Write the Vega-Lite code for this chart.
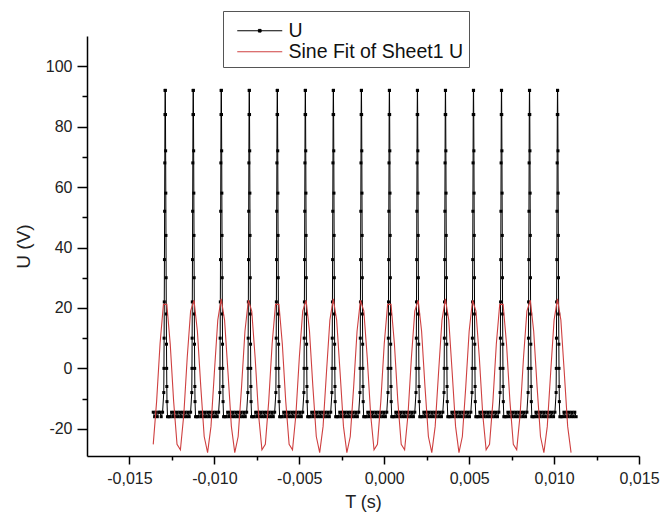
{
"$schema": "https://vega.github.io/schema/vega-lite/v6.json",
"width": 552, "height": 420,
"autosize": {"type": "none"},
"padding": {"left": 87, "top": 36, "right": 23, "bottom": 69},
"background": "white",
"config": {"view": {"stroke": null}, "font": "Liberation Sans"},
"datasets": {
"u": [
{"T":-0.0136,"U":-14.5},{"T":-0.01352,"U":-16},{"T":-0.01344,"U":-14.5},{"T":-0.01336,"U":-16},{"T":-0.01328,"U":-14.5},{"T":-0.01321,"U":-14.5},
{"T":-0.01313,"U":-16},{"T":-0.01305,"U":-14.5},{"T":-0.01298,"U":-8},{"T":-0.01297,"U":0},{"T":-0.01296,"U":10},{"T":-0.01295,"U":22},{"T":-0.01294,"U":36},{"T":-0.01293,"U":52},{"T":-0.01292,"U":68},{"T":-0.01291,"U":84},{"T":-0.0129,"U":92},{"T":-0.01289,"U":92},{"T":-0.01288,"U":84},{"T":-0.01287,"U":72},{"T":-0.01286,"U":58},{"T":-0.01285,"U":44},{"T":-0.01284,"U":30},{"T":-0.01283,"U":18},{"T":-0.01282,"U":8},{"T":-0.01281,"U":0},{"T":-0.0128,"U":-6},{"T":-0.01279,"U":-11},{"T":-0.01276,"U":-16},{"T":-0.01268,"U":-16},{"T":-0.0126,"U":-16},{"T":-0.01252,"U":-14.5},{"T":-0.01244,"U":-16},{"T":-0.01236,"U":-14.5},{"T":-0.01228,"U":-16},{"T":-0.0122,"U":-14.5},{"T":-0.01212,"U":-16},{"T":-0.01204,"U":-14.5},{"T":-0.01196,"U":-16},{"T":-0.01188,"U":-14.5},{"T":-0.0118,"U":-16},{"T":-0.01172,"U":-14.5},{"T":-0.01164,"U":-16},{"T":-0.01156,"U":-14.5},
{"T":-0.01148,"U":-16},{"T":-0.0114,"U":-14.5},{"T":-0.01133,"U":-8},{"T":-0.01132,"U":0},{"T":-0.01131,"U":10},{"T":-0.0113,"U":22},{"T":-0.01129,"U":36},{"T":-0.01128,"U":52},{"T":-0.01127,"U":68},{"T":-0.01126,"U":84},{"T":-0.01125,"U":92},{"T":-0.01124,"U":92},{"T":-0.01123,"U":84},{"T":-0.01122,"U":72},{"T":-0.01121,"U":58},{"T":-0.0112,"U":44},{"T":-0.01119,"U":30},{"T":-0.01118,"U":18},{"T":-0.01117,"U":8},{"T":-0.01116,"U":0},{"T":-0.01115,"U":-6},{"T":-0.01114,"U":-11},{"T":-0.01111,"U":-16},{"T":-0.01103,"U":-16},{"T":-0.01095,"U":-16},{"T":-0.01087,"U":-14.5},{"T":-0.01079,"U":-16},{"T":-0.01071,"U":-14.5},{"T":-0.01063,"U":-16},{"T":-0.01055,"U":-14.5},{"T":-0.01047,"U":-16},{"T":-0.01039,"U":-14.5},{"T":-0.01031,"U":-16},{"T":-0.01023,"U":-14.5},{"T":-0.01015,"U":-16},{"T":-0.01007,"U":-14.5},{"T":-0.00999,"U":-16},{"T":-0.00991,"U":-14.5},
{"T":-0.00983,"U":-16},{"T":-0.00975,"U":-14.5},{"T":-0.00968,"U":-8},{"T":-0.00967,"U":0},{"T":-0.00966,"U":10},{"T":-0.00965,"U":22},{"T":-0.00964,"U":36},{"T":-0.00963,"U":52},{"T":-0.00962,"U":68},{"T":-0.00961,"U":84},{"T":-0.0096,"U":92},{"T":-0.00959,"U":92},{"T":-0.00958,"U":84},{"T":-0.00957,"U":72},{"T":-0.00956,"U":58},{"T":-0.00955,"U":44},{"T":-0.00954,"U":30},{"T":-0.00953,"U":18},{"T":-0.00952,"U":8},{"T":-0.00951,"U":0},{"T":-0.0095,"U":-6},{"T":-0.00949,"U":-11},{"T":-0.00946,"U":-16},{"T":-0.00938,"U":-16},{"T":-0.0093,"U":-16},{"T":-0.00922,"U":-14.5},{"T":-0.00914,"U":-16},{"T":-0.00906,"U":-14.5},{"T":-0.00898,"U":-16},{"T":-0.0089,"U":-14.5},{"T":-0.00882,"U":-16},{"T":-0.00874,"U":-14.5},{"T":-0.00866,"U":-16},{"T":-0.00858,"U":-14.5},{"T":-0.0085,"U":-16},{"T":-0.00842,"U":-14.5},{"T":-0.00834,"U":-16},{"T":-0.00826,"U":-14.5},
{"T":-0.00818,"U":-16},{"T":-0.0081,"U":-14.5},{"T":-0.00803,"U":-8},{"T":-0.00802,"U":0},{"T":-0.00801,"U":10},{"T":-0.008,"U":22},{"T":-0.00799,"U":36},{"T":-0.00798,"U":52},{"T":-0.00797,"U":68},{"T":-0.00796,"U":84},{"T":-0.00795,"U":92},{"T":-0.00794,"U":92},{"T":-0.00793,"U":84},{"T":-0.00792,"U":72},{"T":-0.00791,"U":58},{"T":-0.0079,"U":44},{"T":-0.00789,"U":30},{"T":-0.00788,"U":18},{"T":-0.00787,"U":8},{"T":-0.00786,"U":0},{"T":-0.00785,"U":-6},{"T":-0.00784,"U":-11},{"T":-0.00781,"U":-16},{"T":-0.00773,"U":-16},{"T":-0.00765,"U":-16},{"T":-0.00757,"U":-14.5},{"T":-0.00749,"U":-16},{"T":-0.00741,"U":-14.5},{"T":-0.00733,"U":-16},{"T":-0.00725,"U":-14.5},{"T":-0.00717,"U":-16},{"T":-0.00709,"U":-14.5},{"T":-0.00701,"U":-16},{"T":-0.00693,"U":-14.5},{"T":-0.00685,"U":-16},{"T":-0.00677,"U":-14.5},{"T":-0.00669,"U":-16},{"T":-0.00661,"U":-14.5},
{"T":-0.00653,"U":-16},{"T":-0.00645,"U":-14.5},{"T":-0.00638,"U":-8},{"T":-0.00637,"U":0},{"T":-0.00636,"U":10},{"T":-0.00635,"U":22},{"T":-0.00634,"U":36},{"T":-0.00633,"U":52},{"T":-0.00632,"U":68},{"T":-0.00631,"U":84},{"T":-0.0063,"U":92},{"T":-0.00629,"U":92},{"T":-0.00628,"U":84},{"T":-0.00627,"U":72},{"T":-0.00626,"U":58},{"T":-0.00625,"U":44},{"T":-0.00624,"U":30},{"T":-0.00623,"U":18},{"T":-0.00622,"U":8},{"T":-0.00621,"U":0},{"T":-0.0062,"U":-6},{"T":-0.00619,"U":-11},{"T":-0.00616,"U":-16},{"T":-0.00608,"U":-16},{"T":-0.006,"U":-16},{"T":-0.00592,"U":-14.5},{"T":-0.00584,"U":-16},{"T":-0.00576,"U":-14.5},{"T":-0.00568,"U":-16},{"T":-0.0056,"U":-14.5},{"T":-0.00552,"U":-16},{"T":-0.00544,"U":-14.5},{"T":-0.00536,"U":-16},{"T":-0.00528,"U":-14.5},{"T":-0.0052,"U":-16},{"T":-0.00512,"U":-14.5},{"T":-0.00504,"U":-16},{"T":-0.00496,"U":-14.5},
{"T":-0.00488,"U":-16},{"T":-0.0048,"U":-14.5},{"T":-0.00473,"U":-8},{"T":-0.00472,"U":0},{"T":-0.00471,"U":10},{"T":-0.0047,"U":22},{"T":-0.00469,"U":36},{"T":-0.00468,"U":52},{"T":-0.00467,"U":68},{"T":-0.00466,"U":84},{"T":-0.00465,"U":92},{"T":-0.00464,"U":92},{"T":-0.00463,"U":84},{"T":-0.00462,"U":72},{"T":-0.00461,"U":58},{"T":-0.0046,"U":44},{"T":-0.00459,"U":30},{"T":-0.00458,"U":18},{"T":-0.00457,"U":8},{"T":-0.00456,"U":0},{"T":-0.00455,"U":-6},{"T":-0.00454,"U":-11},{"T":-0.00451,"U":-16},{"T":-0.00443,"U":-16},{"T":-0.00435,"U":-16},{"T":-0.00427,"U":-14.5},{"T":-0.00419,"U":-16},{"T":-0.00411,"U":-14.5},{"T":-0.00403,"U":-16},{"T":-0.00395,"U":-14.5},{"T":-0.00387,"U":-16},{"T":-0.00379,"U":-14.5},{"T":-0.00371,"U":-16},{"T":-0.00363,"U":-14.5},{"T":-0.00355,"U":-16},{"T":-0.00347,"U":-14.5},{"T":-0.00339,"U":-16},{"T":-0.00331,"U":-14.5},
{"T":-0.00323,"U":-16},{"T":-0.00315,"U":-14.5},{"T":-0.00308,"U":-8},{"T":-0.00307,"U":0},{"T":-0.00306,"U":10},{"T":-0.00305,"U":22},{"T":-0.00304,"U":36},{"T":-0.00303,"U":52},{"T":-0.00302,"U":68},{"T":-0.00301,"U":84},{"T":-0.003,"U":92},{"T":-0.00299,"U":92},{"T":-0.00298,"U":84},{"T":-0.00297,"U":72},{"T":-0.00296,"U":58},{"T":-0.00295,"U":44},{"T":-0.00294,"U":30},{"T":-0.00293,"U":18},{"T":-0.00292,"U":8},{"T":-0.00291,"U":0},{"T":-0.0029,"U":-6},{"T":-0.00289,"U":-11},{"T":-0.00286,"U":-16},{"T":-0.00278,"U":-16},{"T":-0.0027,"U":-16},{"T":-0.00262,"U":-14.5},{"T":-0.00254,"U":-16},{"T":-0.00246,"U":-14.5},{"T":-0.00238,"U":-16},{"T":-0.0023,"U":-14.5},{"T":-0.00222,"U":-16},{"T":-0.00214,"U":-14.5},{"T":-0.00206,"U":-16},{"T":-0.00198,"U":-14.5},{"T":-0.0019,"U":-16},{"T":-0.00182,"U":-14.5},{"T":-0.00174,"U":-16},{"T":-0.00166,"U":-14.5},
{"T":-0.00158,"U":-16},{"T":-0.0015,"U":-14.5},{"T":-0.00143,"U":-8},{"T":-0.00142,"U":0},{"T":-0.00141,"U":10},{"T":-0.0014,"U":22},{"T":-0.00139,"U":36},{"T":-0.00138,"U":52},{"T":-0.00137,"U":68},{"T":-0.00136,"U":84},{"T":-0.00135,"U":92},{"T":-0.00134,"U":92},{"T":-0.00133,"U":84},{"T":-0.00132,"U":72},{"T":-0.00131,"U":58},{"T":-0.0013,"U":44},{"T":-0.00129,"U":30},{"T":-0.00128,"U":18},{"T":-0.00127,"U":8},{"T":-0.00126,"U":0},{"T":-0.00125,"U":-6},{"T":-0.00124,"U":-11},{"T":-0.00121,"U":-16},{"T":-0.00113,"U":-16},{"T":-0.00105,"U":-16},{"T":-0.00097,"U":-14.5},{"T":-0.00089,"U":-16},{"T":-0.00081,"U":-14.5},{"T":-0.00073,"U":-16},{"T":-0.00065,"U":-14.5},{"T":-0.00057,"U":-16},{"T":-0.00049,"U":-14.5},{"T":-0.00041,"U":-16},{"T":-0.00033,"U":-14.5},{"T":-0.00025,"U":-16},{"T":-0.00017,"U":-14.5},{"T":-0.00009,"U":-16},{"T":-0.00001,"U":-14.5},
{"T":0.00007,"U":-16},{"T":0.00015,"U":-14.5},{"T":0.00022,"U":-8},{"T":0.00023,"U":0},{"T":0.00024,"U":10},{"T":0.00025,"U":22},{"T":0.00026,"U":36},{"T":0.00027,"U":52},{"T":0.00028,"U":68},{"T":0.00029,"U":84},{"T":0.0003,"U":92},{"T":0.00031,"U":92},{"T":0.00032,"U":84},{"T":0.00033,"U":72},{"T":0.00034,"U":58},{"T":0.00035,"U":44},{"T":0.00036,"U":30},{"T":0.00037,"U":18},{"T":0.00038,"U":8},{"T":0.00039,"U":0},{"T":0.0004,"U":-6},{"T":0.00041,"U":-11},{"T":0.00044,"U":-16},{"T":0.00052,"U":-16},{"T":0.0006,"U":-16},{"T":0.00068,"U":-14.5},{"T":0.00076,"U":-16},{"T":0.00084,"U":-14.5},{"T":0.00092,"U":-16},{"T":0.001,"U":-14.5},{"T":0.00108,"U":-16},{"T":0.00116,"U":-14.5},{"T":0.00124,"U":-16},{"T":0.00132,"U":-14.5},{"T":0.0014,"U":-16},{"T":0.00148,"U":-14.5},{"T":0.00156,"U":-16},{"T":0.00164,"U":-14.5},
{"T":0.00172,"U":-16},{"T":0.0018,"U":-14.5},{"T":0.00187,"U":-8},{"T":0.00188,"U":0},{"T":0.00189,"U":10},{"T":0.0019,"U":22},{"T":0.00191,"U":36},{"T":0.00192,"U":52},{"T":0.00193,"U":68},{"T":0.00194,"U":84},{"T":0.00195,"U":92},{"T":0.00196,"U":92},{"T":0.00197,"U":84},{"T":0.00198,"U":72},{"T":0.00199,"U":58},{"T":0.002,"U":44},{"T":0.00201,"U":30},{"T":0.00202,"U":18},{"T":0.00203,"U":8},{"T":0.00204,"U":0},{"T":0.00205,"U":-6},{"T":0.00206,"U":-11},{"T":0.00209,"U":-16},{"T":0.00217,"U":-16},{"T":0.00225,"U":-16},{"T":0.00233,"U":-14.5},{"T":0.00241,"U":-16},{"T":0.00249,"U":-14.5},{"T":0.00257,"U":-16},{"T":0.00265,"U":-14.5},{"T":0.00273,"U":-16},{"T":0.00281,"U":-14.5},{"T":0.00289,"U":-16},{"T":0.00297,"U":-14.5},{"T":0.00305,"U":-16},{"T":0.00313,"U":-14.5},{"T":0.00321,"U":-16},{"T":0.00329,"U":-14.5},
{"T":0.00337,"U":-16},{"T":0.00345,"U":-14.5},{"T":0.00352,"U":-8},{"T":0.00353,"U":0},{"T":0.00354,"U":10},{"T":0.00355,"U":22},{"T":0.00356,"U":36},{"T":0.00357,"U":52},{"T":0.00358,"U":68},{"T":0.00359,"U":84},{"T":0.0036,"U":92},{"T":0.00361,"U":92},{"T":0.00362,"U":84},{"T":0.00363,"U":72},{"T":0.00364,"U":58},{"T":0.00365,"U":44},{"T":0.00366,"U":30},{"T":0.00367,"U":18},{"T":0.00368,"U":8},{"T":0.00369,"U":0},{"T":0.0037,"U":-6},{"T":0.00371,"U":-11},{"T":0.00374,"U":-16},{"T":0.00382,"U":-16},{"T":0.0039,"U":-16},{"T":0.00398,"U":-14.5},{"T":0.00406,"U":-16},{"T":0.00414,"U":-14.5},{"T":0.00422,"U":-16},{"T":0.0043,"U":-14.5},{"T":0.00438,"U":-16},{"T":0.00446,"U":-14.5},{"T":0.00454,"U":-16},{"T":0.00462,"U":-14.5},{"T":0.0047,"U":-16},{"T":0.00478,"U":-14.5},{"T":0.00486,"U":-16},{"T":0.00494,"U":-14.5},
{"T":0.00502,"U":-16},{"T":0.0051,"U":-14.5},{"T":0.00517,"U":-8},{"T":0.00518,"U":0},{"T":0.00519,"U":10},{"T":0.0052,"U":22},{"T":0.00521,"U":36},{"T":0.00522,"U":52},{"T":0.00523,"U":68},{"T":0.00524,"U":84},{"T":0.00525,"U":92},{"T":0.00526,"U":92},{"T":0.00527,"U":84},{"T":0.00528,"U":72},{"T":0.00529,"U":58},{"T":0.0053,"U":44},{"T":0.00531,"U":30},{"T":0.00532,"U":18},{"T":0.00533,"U":8},{"T":0.00534,"U":0},{"T":0.00535,"U":-6},{"T":0.00536,"U":-11},{"T":0.00539,"U":-16},{"T":0.00547,"U":-16},{"T":0.00555,"U":-16},{"T":0.00563,"U":-14.5},{"T":0.00571,"U":-16},{"T":0.00579,"U":-14.5},{"T":0.00587,"U":-16},{"T":0.00595,"U":-14.5},{"T":0.00603,"U":-16},{"T":0.00611,"U":-14.5},{"T":0.00619,"U":-16},{"T":0.00627,"U":-14.5},{"T":0.00635,"U":-16},{"T":0.00643,"U":-14.5},{"T":0.00651,"U":-16},{"T":0.00659,"U":-14.5},
{"T":0.00667,"U":-16},{"T":0.00675,"U":-14.5},{"T":0.00682,"U":-8},{"T":0.00683,"U":0},{"T":0.00684,"U":10},{"T":0.00685,"U":22},{"T":0.00686,"U":36},{"T":0.00687,"U":52},{"T":0.00688,"U":68},{"T":0.00689,"U":84},{"T":0.0069,"U":92},{"T":0.00691,"U":92},{"T":0.00692,"U":84},{"T":0.00693,"U":72},{"T":0.00694,"U":58},{"T":0.00695,"U":44},{"T":0.00696,"U":30},{"T":0.00697,"U":18},{"T":0.00698,"U":8},{"T":0.00699,"U":0},{"T":0.007,"U":-6},{"T":0.00701,"U":-11},{"T":0.00704,"U":-16},{"T":0.00712,"U":-16},{"T":0.0072,"U":-16},{"T":0.00728,"U":-14.5},{"T":0.00736,"U":-16},{"T":0.00744,"U":-14.5},{"T":0.00752,"U":-16},{"T":0.0076,"U":-14.5},{"T":0.00768,"U":-16},{"T":0.00776,"U":-14.5},{"T":0.00784,"U":-16},{"T":0.00792,"U":-14.5},{"T":0.008,"U":-16},{"T":0.00808,"U":-14.5},{"T":0.00816,"U":-16},{"T":0.00824,"U":-14.5},
{"T":0.00832,"U":-16},{"T":0.0084,"U":-14.5},{"T":0.00847,"U":-8},{"T":0.00848,"U":0},{"T":0.00849,"U":10},{"T":0.0085,"U":22},{"T":0.00851,"U":36},{"T":0.00852,"U":52},{"T":0.00853,"U":68},{"T":0.00854,"U":84},{"T":0.00855,"U":92},{"T":0.00856,"U":92},{"T":0.00857,"U":84},{"T":0.00858,"U":72},{"T":0.00859,"U":58},{"T":0.0086,"U":44},{"T":0.00861,"U":30},{"T":0.00862,"U":18},{"T":0.00863,"U":8},{"T":0.00864,"U":0},{"T":0.00865,"U":-6},{"T":0.00866,"U":-11},{"T":0.00869,"U":-16},{"T":0.00877,"U":-16},{"T":0.00885,"U":-16},{"T":0.00893,"U":-14.5},{"T":0.00901,"U":-16},{"T":0.00909,"U":-14.5},{"T":0.00917,"U":-16},{"T":0.00925,"U":-14.5},{"T":0.00933,"U":-16},{"T":0.00941,"U":-14.5},{"T":0.00949,"U":-16},{"T":0.00957,"U":-14.5},{"T":0.00965,"U":-16},{"T":0.00973,"U":-14.5},{"T":0.00981,"U":-16},{"T":0.00989,"U":-14.5},
{"T":0.00997,"U":-16},{"T":0.01005,"U":-14.5},{"T":0.01012,"U":-8},{"T":0.01013,"U":0},{"T":0.01014,"U":10},{"T":0.01015,"U":22},{"T":0.01016,"U":36},{"T":0.01017,"U":52},{"T":0.01018,"U":68},{"T":0.01019,"U":84},{"T":0.0102,"U":92},{"T":0.01021,"U":92},{"T":0.01022,"U":84},{"T":0.01023,"U":72},{"T":0.01024,"U":58},{"T":0.01025,"U":44},{"T":0.01026,"U":30},{"T":0.01027,"U":18},{"T":0.01028,"U":8},{"T":0.01029,"U":0},{"T":0.0103,"U":-6},{"T":0.01031,"U":-11},{"T":0.01034,"U":-16},{"T":0.01042,"U":-16},{"T":0.0105,"U":-16},{"T":0.01058,"U":-14.5},{"T":0.01066,"U":-16},{"T":0.01074,"U":-14.5},{"T":0.01082,"U":-16},{"T":0.0109,"U":-14.5},{"T":0.01098,"U":-16},{"T":0.01106,"U":-14.5},{"T":0.01114,"U":-16},{"T":0.01122,"U":-14.5},{"T":0.0113,"U":-16}
],
"fit": [
{"T":-0.0136,"U":-25.16},{"T":-0.0134,"U":-10.84},{"T":-0.0132,"U":8.09},{"T":-0.013,"U":21.17},{"T":-0.0128,"U":21.17},{"T":-0.0126,"U":8.09},{"T":-0.0124,"U":-10.84},{"T":-0.0122,"U":-25.16},{"T":-0.012,"U":-26.97},{"T":-0.0118,"U":-15.25},{"T":-0.0116,"U":3.51},{"T":-0.0114,"U":18.95},{"T":-0.0112,"U":22.54},{"T":-0.011,"U":12.29},{"T":-0.0108,"U":-6.13},{"T":-0.0106,"U":-22.55},{"T":-0.0104,"U":-27.88},{"T":-0.0102,"U":-19.2},{"T":-0.01,"U":-1.29},{"T":-0.0098,"U":15.95},{"T":-0.0096,"U":23},{"T":-0.0094,"U":15.95},{"T":-0.0092,"U":-1.29},{"T":-0.009,"U":-19.2},{"T":-0.0088,"U":-27.88},{"T":-0.0086,"U":-22.55},{"T":-0.0084,"U":-6.13},{"T":-0.0082,"U":12.29},{"T":-0.008,"U":22.54},{"T":-0.0078,"U":18.95},{"T":-0.0076,"U":3.51},{"T":-0.0074,"U":-15.25},{"T":-0.0072,"U":-26.97},
{"T":-0.007,"U":-25.16},{"T":-0.0068,"U":-10.84},{"T":-0.0066,"U":8.09},{"T":-0.0064,"U":21.17},{"T":-0.0062,"U":21.17},{"T":-0.006,"U":8.09},{"T":-0.0058,"U":-10.84},{"T":-0.0056,"U":-25.16},{"T":-0.0054,"U":-26.97},{"T":-0.0052,"U":-15.25},{"T":-0.005,"U":3.51},{"T":-0.0048,"U":18.95},{"T":-0.0046,"U":22.54},{"T":-0.0044,"U":12.29},{"T":-0.0042,"U":-6.13},{"T":-0.004,"U":-22.55},{"T":-0.0038,"U":-27.88},{"T":-0.0036,"U":-19.2},{"T":-0.0034,"U":-1.29},{"T":-0.0032,"U":15.95},{"T":-0.003,"U":23},{"T":-0.0028,"U":15.95},{"T":-0.0026,"U":-1.29},{"T":-0.0024,"U":-19.2},{"T":-0.0022,"U":-27.88},{"T":-0.002,"U":-22.55},{"T":-0.0018,"U":-6.13},{"T":-0.0016,"U":12.29},{"T":-0.0014,"U":22.54},{"T":-0.0012,"U":18.95},{"T":-0.001,"U":3.51},{"T":-0.0008,"U":-15.25},{"T":-0.0006,"U":-26.97},
{"T":-0.0004,"U":-25.16},{"T":-0.0002,"U":-10.84},{"T":0,"U":8.09},{"T":0.0002,"U":21.17},{"T":0.0004,"U":21.17},{"T":0.0006,"U":8.09},{"T":0.0008,"U":-10.84},{"T":0.001,"U":-25.16},{"T":0.0012,"U":-26.97},{"T":0.0014,"U":-15.25},{"T":0.0016,"U":3.51},{"T":0.0018,"U":18.95},{"T":0.002,"U":22.54},{"T":0.0022,"U":12.29},{"T":0.0024,"U":-6.13},{"T":0.0026,"U":-22.55},{"T":0.0028,"U":-27.88},{"T":0.003,"U":-19.2},{"T":0.0032,"U":-1.29},{"T":0.0034,"U":15.95},{"T":0.0036,"U":23},{"T":0.0038,"U":15.95},{"T":0.004,"U":-1.29},{"T":0.0042,"U":-19.2},{"T":0.0044,"U":-27.88},{"T":0.0046,"U":-22.55},{"T":0.0048,"U":-6.13},{"T":0.005,"U":12.29},{"T":0.0052,"U":22.54},{"T":0.0054,"U":18.95},{"T":0.0056,"U":3.51},{"T":0.0058,"U":-15.25},{"T":0.006,"U":-26.97},
{"T":0.0062,"U":-25.16},{"T":0.0064,"U":-10.84},{"T":0.0066,"U":8.09},{"T":0.0068,"U":21.17},{"T":0.007,"U":21.17},{"T":0.0072,"U":8.09},{"T":0.0074,"U":-10.84},{"T":0.0076,"U":-25.16},{"T":0.0078,"U":-26.97},{"T":0.008,"U":-15.25},{"T":0.0082,"U":3.51},{"T":0.0084,"U":18.95},{"T":0.0086,"U":22.54},{"T":0.0088,"U":12.29},{"T":0.009,"U":-6.13},{"T":0.0092,"U":-22.55},{"T":0.0094,"U":-27.88},{"T":0.0096,"U":-19.2},{"T":0.0098,"U":-1.29},{"T":0.01,"U":15.95},{"T":0.0102,"U":23},{"T":0.0104,"U":15.95},{"T":0.0106,"U":-1.29},{"T":0.0108,"U":-19.2},{"T":0.011,"U":-27.88}
]
},
"encoding": {
"x": {"field": "T", "type": "quantitative", "title": "T (s)",
 "scale": {"domain": [-0.0175, 0.015], "nice": false, "zero": false},
 "axis": {"values": [-0.015,-0.0125,-0.01,-0.0075,-0.005,-0.0025,0,0.0025,0.005,0.0075,0.01,0.0125,0.015],
  "labelExpr": "abs(round(datum.value*2000)) % 2 === 0 ? (datum.value < 0 ? '-' : '') + replace(format(abs(datum.value), '.3f'), '.', ',') : ''",
  "tickSize": {"condition": {"test": "abs(round(datum.value*2000)) % 2 === 0", "value": 8}, "value": 4},
  "grid": false, "domainColor": "#000000", "domainWidth": 1.5, "tickColor": "#000000", "tickWidth": 1.5,
  "labelFont": "Liberation Sans", "labelFontSize": 16, "labelColor": "#222222", "labelPadding": 6, "labelFlush": false, "labelOverlap": false,
  "titleFont": "Liberation Sans", "titleFontSize": 18, "titleFontWeight": "normal", "titleColor": "#222222", "titlePadding": 7}},
"y": {"field": "U", "type": "quantitative", "title": "U (V)",
 "scale": {"domain": [-29, 110], "nice": false, "zero": false},
 "axis": {"values": [-20,-10,0,10,20,30,40,50,60,70,80,90,100],
  "labelExpr": "datum.value % 20 === 0 ? (datum.value < 0 ? '-' : '') + format(abs(datum.value), 'd') : ''",
  "tickSize": {"condition": {"test": "datum.value % 20 === 0", "value": 10}, "value": 5},
  "grid": false, "domainColor": "#000000", "domainWidth": 1.5, "tickColor": "#000000", "tickWidth": 1.5,
  "labelFont": "Liberation Sans", "labelFontSize": 16, "labelColor": "#222222", "labelPadding": 5, "labelOverlap": false,
  "titleFont": "Liberation Sans", "titleFontSize": 19, "titleFontWeight": "normal", "titleColor": "#222222", "titlePadding": 12}}
},
"layer": [
{"data": {"name": "u"}, "mark": {"type": "line", "strokeWidth": 1},
 "encoding": {"color": {"datum": "U", "type": "nominal",
  "scale": {"domain": ["U", "Sine Fit of Sheet1 U"], "range": ["#000000", "#cf4040"]},
  "legend": {"orient": "none", "legendX": 136, "legendY": -25, "title": " ", "titleFontSize": 5, "titlePadding": 0, "direction": "vertical",
   "strokeColor": "#555555", "fillColor": "#ffffff", "padding": 5,
   "labelFont": "Liberation Sans", "labelFontSize": 19.5, "labelColor": "#111111", "labelLimit": 400,
   "symbolSize": 81, "symbolStrokeWidth": 1, "symbolOffset": 22, "labelOffset": 19, "rowPadding": 0,
   "encode": {"symbols": {"update": {
     "shape": {"signal": "datum.value === 'U' ? 'M-5,0H5M-0.3,-0.3H0.3V0.3H-0.3Z' : 'M-5,0H5'"},
     "fill": {"signal": "datum.value === 'U' ? '#000000' : 'transparent'"}}}}}}}},
{"data": {"name": "u"}, "mark": {"type": "point", "shape": "square", "size": 9, "filled": true, "color": "#000000", "opacity": 1}},
{"data": {"name": "fit"}, "mark": {"type": "line", "strokeWidth": 1.1},
 "encoding": {"color": {"datum": "Sine Fit of Sheet1 U", "type": "nominal"}}}
]
}
